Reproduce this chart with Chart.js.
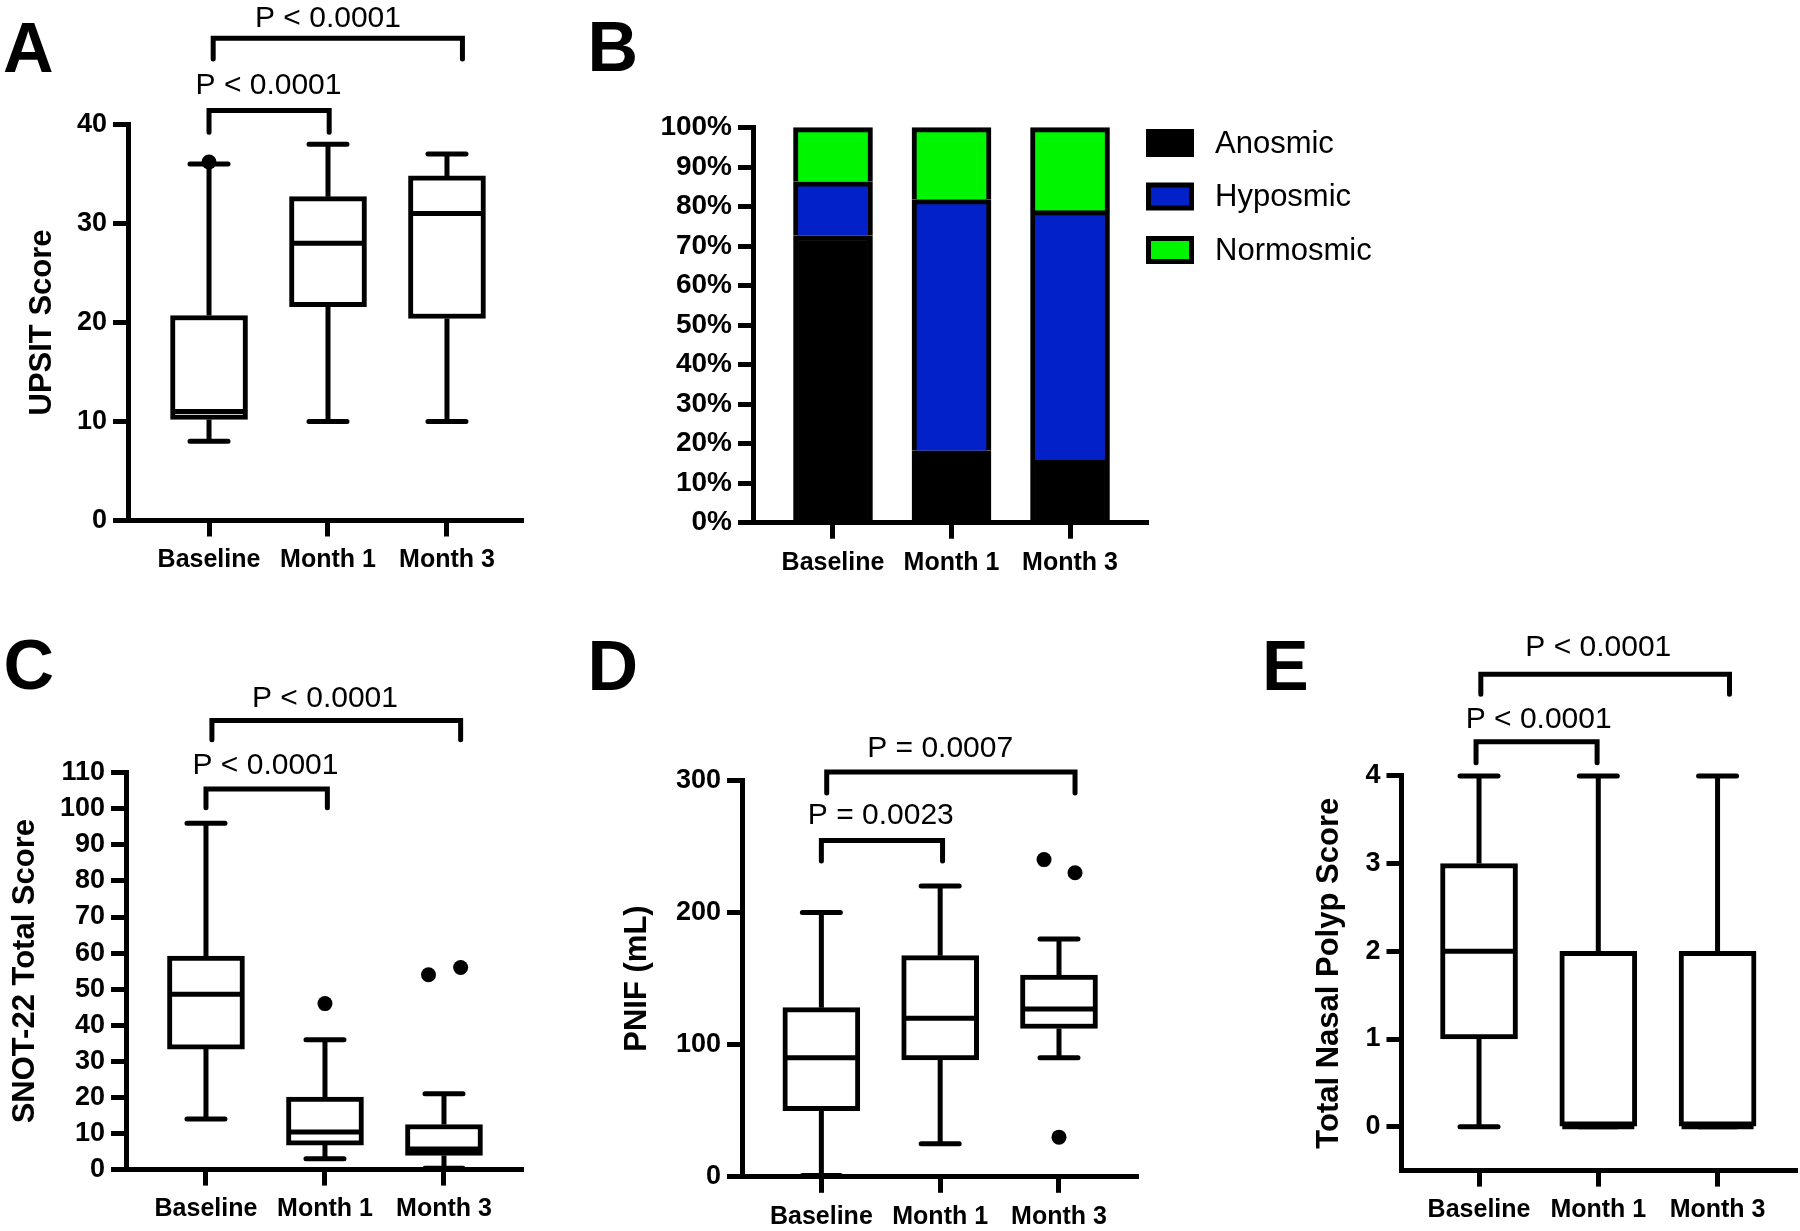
<!DOCTYPE html>
<html>
<head>
<meta charset="utf-8">
<title>Olfaction and nasal outcomes</title>
<script src="https://cdn.jsdelivr.net/npm/chart.js@4.4.1/dist/chart.umd.min.js"></script>
<style>
  html, body { margin: 0; padding: 0; background: #fff; }
  #fig { position: relative; width: 1800px; height: 1231px; overflow: hidden; background: #fff; }
  #fig canvas { position: absolute; left: 0; top: 0; }
</style>
</head>
<body>
<div id="fig">
  <canvas id="panelA" width="1800" height="1231"></canvas>
  <canvas id="panelB" width="1800" height="1231"></canvas>
  <canvas id="panelC" width="1800" height="1231"></canvas>
  <canvas id="panelD" width="1800" height="1231"></canvas>
  <canvas id="panelE" width="1800" height="1231"></canvas>
</div>
<script>
const categories = ['Baseline', 'Month 1', 'Month 3'];

// A: UPSIT score
const upsitMin = [8, 10, 10];
const upsitQ1 = [10.2, 21.6, 20.4];
const upsitMedian = [11, 28, 31];
const upsitQ3 = [20.7, 32.7, 34.8];
const upsitMax = [36, 38, 37];
const upsitOutliers = [[0, 36.2]];
const upsitTicks = [0, 10, 20, 30, 40];
const upsitP = ['P < 0.0001', 'P < 0.0001'];

// B: olfactory status (%)
const anosmicPct = [72.7, 18.2, 15.8];
const hyposmicPct = [13.6, 63.6, 63.2];
const normosmicPct = [13.7, 18.2, 21.0];
const pctTicks = [0, 10, 20, 30, 40, 50, 60, 70, 80, 90, 100];

// C: SNOT-22 total score
const snotMin = [14, 3, 0.4];
const snotQ1 = [33.4, 6.8, 3.9];
const snotMedian = [48.6, 10.4, 5.7];
const snotQ3 = [59.2, 20.1, 12.5];
const snotMax = [96, 36, 21];
const snotOutliers = [[1, 46], [1.87, 54], [2.14, 56]];
const snotTicks = [0, 10, 20, 30, 40, 50, 60, 70, 80, 90, 100, 110];
const snotP = ['P < 0.0001', 'P < 0.0001'];

// D: PNIF (mL)
const pnifMin = [1, 25, 90];
const pnifQ1 = [50, 88.4, 112.2];
const pnifMedian = [90, 120, 127];
const pnifQ3 = [128, 167.3, 152.7];
const pnifMax = [200, 220, 180];
const pnifOutliers = [[1.874, 240], [2.135, 230], [2, 30]];
const pnifTicks = [0, 100, 200, 300];
const pnifP = ['P = 0.0023', 'P = 0.0007'];

// E: total nasal polyp score
const npsMin = [0, 0, 0];
const npsQ1 = [1, 0, 0];
const npsMedian = [2, 0, 0];
const npsQ3 = [3, 2, 2];
const npsMax = [4, 4, 4];
const npsOutliers = [];
const npsTicks = [0, 1, 2, 3, 4];
const npsP = ['P < 0.0001', 'P < 0.0001'];

Chart.defaults.font.family = '"Liberation Sans", Arial, Helvetica, sans-serif';
Chart.defaults.color = '#000';
Chart.defaults.animation = false;

const FIG_W = 1800, FIG_H = 1231, X_AXIS_H = 50;
const FONT = '"Liberation Sans", Arial, Helvetica, sans-serif';
const BLUE = '#0321c9', GREEN = '#00f500';

function scalesFor(frame, yMin, yMax, yTicks, title, tickSize, fmt, stacked) {
  return {
    x: {
      type: 'linear', bounds: 'data', min: frame.xMin, max: frame.xMax, stacked: stacked,
      offset: false,
      grid: { display: true, offset: false, drawOnChartArea: false, drawTicks: true,
              tickLength: 16, tickWidth: 5, tickColor: '#000' },
      border: { display: true, color: '#000', width: 5 },
      ticks: { color: '#000', padding: 9, autoSkip: false, maxRotation: 0, minRotation: 0,
               font: { size: 25, weight: 'bold' }, callback: (v, i) => categories[i] },
      afterBuildTicks: s => { s.ticks = categories.map((c, i) => ({ value: i })); },
      afterFit: s => { s.height = X_AXIS_H; }
    },
    y: {
      type: 'linear', bounds: 'data', min: yMin, max: yMax, stacked: stacked,
      offset: false, beginAtZero: false,
      grid: { display: true, offset: false, drawOnChartArea: false, drawTicks: true,
              tickLength: 15, tickWidth: 5, tickColor: '#000' },
      border: { display: true, color: '#000', width: 5 },
      ticks: { color: '#000', padding: 6, font: { size: tickSize, weight: 'bold' },
               callback: v => fmt ? fmt(v) : v },
      title: { display: !!title, text: title || '', color: '#000', padding: 0,
               font: { size: 31, weight: 'bold' } },
      afterBuildTicks: s => { s.ticks = yTicks.map(v => ({ value: v })); },
      afterFit: s => { s.width = frame.left - frame.padLeft; }
    }
  };
}

function layoutFor(frame) {
  return { padding: { left: frame.padLeft, top: frame.top, right: FIG_W - frame.right,
                      bottom: FIG_H - frame.bottom - X_AXIS_H } };
}

// whiskers, caps and medians on top of the floating-bar boxes
function whiskerPlugin(st) {
  return {
    id: 'whiskers',
    afterDatasetsDraw(chart) {
      const { ctx } = chart, x = chart.scales.x, y = chart.scales.y;
      ctx.save();
      ctx.strokeStyle = '#000';
      ctx.lineWidth = 5;
      st.min.forEach((mn, i) => {
        const cx = x.getPixelForValue(i);
        const pMin = y.getPixelForValue(mn), pMax = y.getPixelForValue(st.max[i]);
        const pQ1 = y.getPixelForValue(st.q1[i]), pQ3 = y.getPixelForValue(st.q3[i]);
        const pMed = y.getPixelForValue(st.median[i]);
        ctx.lineCap = 'butt';
        ctx.beginPath();
        ctx.moveTo(cx, pQ3); ctx.lineTo(cx, pMax);
        ctx.moveTo(cx, pQ1); ctx.lineTo(cx, pMin);
        ctx.moveTo(cx - 36, pMed); ctx.lineTo(cx + 36, pMed);
        ctx.stroke();
        ctx.lineCap = 'round';
        ctx.beginPath();
        ctx.moveTo(cx - 19, pMax); ctx.lineTo(cx + 19, pMax);
        ctx.moveTo(cx - 19, pMin); ctx.lineTo(cx + 19, pMin);
        ctx.stroke();
      });
      ctx.restore();
    }
  };
}

// significance brackets + panel letter
function annotatePlugin(letter, brackets, labels) {
  return {
    id: 'annotate',
    afterDraw(chart) {
      const { ctx } = chart, x = chart.scales.x, y = chart.scales.y;
      ctx.save();
      ctx.strokeStyle = '#000';
      ctx.fillStyle = '#000';
      ctx.lineWidth = 5;
      brackets.forEach((b, k) => {
        const x1 = x.getPixelForValue(b.from), x2 = x.getPixelForValue(b.to);
        const yb = y.getPixelForValue(b.y), yl = y.getPixelForValue(b.leg);
        ctx.lineCap = 'round';
        ctx.lineJoin = 'miter';
        ctx.beginPath();
        ctx.moveTo(x1, yl); ctx.lineTo(x1, yb); ctx.lineTo(x2, yb); ctx.lineTo(x2, yl);
        ctx.stroke();
        ctx.font = '30px ' + FONT;
        ctx.textAlign = 'center';
        ctx.textBaseline = 'alphabetic';
        ctx.fillText(labels[k], x.getPixelForValue(b.tx), y.getPixelForValue(b.ty));
      });
      if (letter) {
        ctx.font = 'bold 70px ' + FONT;
        ctx.textAlign = 'left';
        ctx.textBaseline = 'alphabetic';
        ctx.fillText(letter.text, letter.x, letter.y);
      }
      ctx.restore();
    }
  };
}

function boxChart(id, frame, st, yMin, yMax, yTicks, title, letter, brackets, labels) {
  return new Chart(document.getElementById(id), {
    type: 'scatter',
    data: {
      datasets: [
        {
          type: 'bar',
          data: st.q1.map((q, i) => ({ x: i, y: [q, st.q3[i]] })),
          backgroundColor: '#fff', borderColor: '#000', borderWidth: 5,
          borderSkipped: false, barThickness: 77, clip: false
        },
        {
          type: 'scatter',
          data: st.outliers.map(p => ({ x: p[0], y: p[1] })),
          pointRadius: 7.5, pointBackgroundColor: '#000', pointBorderWidth: 0, clip: false
        }
      ]
    },
    options: {
      responsive: false, devicePixelRatio: 1, animation: false,
      layout: layoutFor(frame),
      plugins: { legend: { display: false }, tooltip: { enabled: false } },
      scales: scalesFor(frame, yMin, yMax, yTicks, title, 27, null, false)
    },
    plugins: [whiskerPlugin(st), annotatePlugin(letter, brackets, labels)]
  });
}

// Panel A
boxChart('panelA',
  { left: 128, right: 523, top: 124.4, bottom: 520.5, xMin: -0.681, xMax: 2.639, padLeft: 23.4 },
  { min: upsitMin, q1: upsitQ1, median: upsitMedian, q3: upsitQ3, max: upsitMax, outliers: upsitOutliers },
  0, 40, upsitTicks, 'UPSIT Score', { text: 'A', x: 3, y: 72 },
  [ { from: 0, to: 1.01, y: 41.4, leg: 39.2, tx: 0.5, ty: 43.1 },
    { from: 0.035, to: 2.13, y: 48.7, leg: 46.6, tx: 1, ty: 49.8 } ], upsitP);

// Panel C
boxChart('panelC',
  { left: 126, right: 523, top: 772.7, bottom: 1169.6, xMin: -0.672, xMax: 2.664, padLeft: 6.4 },
  { min: snotMin, q1: snotQ1, median: snotMedian, q3: snotQ3, max: snotMax, outliers: snotOutliers },
  0, 110, snotTicks, 'SNOT-22 Total Score', { text: 'C', x: 3.5, y: 689 },
  [ { from: 0, to: 1.02, y: 105.5, leg: 100.3, tx: 0.5, ty: 109.6 },
    { from: 0.05, to: 2.14, y: 124.5, leg: 119.1, tx: 1, ty: 128.2 } ], snotP);

// Panel D
boxChart('panelD',
  { left: 742, right: 1138.6, top: 780.3, bottom: 1176.8, xMin: -0.668, xMax: 2.67, padLeft: 619.3 },
  { min: pnifMin, q1: pnifQ1, median: pnifMedian, q3: pnifQ3, max: pnifMax, outliers: pnifOutliers },
  0, 300, pnifTicks, 'PNIF (mL)', { text: 'D', x: 587.5, y: 690 },
  [ { from: 0, to: 1.02, y: 254.4, leg: 239, tx: 0.5, ty: 267.2 },
    { from: 0.045, to: 2.135, y: 306.3, leg: 290.4, tx: 1, ty: 317.9 } ], pnifP);

// Panel E
boxChart('panelE',
  { left: 1401.5, right: 1797, top: 775.9, bottom: 1170.6, xMin: -0.65, xMax: 2.666, padLeft: 1310.9 },
  { min: npsMin, q1: npsQ1, median: npsMedian, q3: npsQ3, max: npsMax, outliers: npsOutliers },
  -0.5, 4, npsTicks, 'Total Nasal Polyp Score', { text: 'E', x: 1262, y: 690 },
  [ { from: -0.025, to: 0.99, y: 4.39, leg: 4.15, tx: 0.5, ty: 4.55 },
    { from: 0.015, to: 2.1, y: 5.16, leg: 4.93, tx: 1, ty: 5.37 } ], npsP);

// Panel B: stacked percentage bars with a hand-placed legend
const frameB = { left: 753, right: 1148, top: 127.7, bottom: 522.7, xMin: -0.675, xMax: 2.658, padLeft: 600 };

const legendB = {
  id: 'legendB',
  afterDraw(chart) {
    const { ctx } = chart;
    ctx.save();
    chart.data.datasets.forEach((ds, k) => {
      const cy = 143 + k * 53.5;
      ctx.fillStyle = '#000';
      ctx.fillRect(1146, cy - 14, 48, 28);
      ctx.fillStyle = ds.backgroundColor;
      ctx.fillRect(1151, cy - 9, 38, 18);
      ctx.fillStyle = '#000';
      ctx.font = '31px ' + FONT;
      ctx.textAlign = 'left';
      ctx.textBaseline = 'middle';
      ctx.fillText(ds.label, 1215, cy + 1);
    });
    ctx.restore();
  }
};

const segStyle = { type: 'bar', borderColor: '#000', borderWidth: 5, borderSkipped: 'start', barThickness: 79, clip: false };

new Chart(document.getElementById('panelB'), {
  type: 'scatter',
  data: {
    datasets: [
      Object.assign({ label: 'Anosmic', backgroundColor: '#000',
        data: anosmicPct.map((v, i) => ({ x: i, y: v })) }, segStyle),
      Object.assign({ label: 'Hyposmic', backgroundColor: BLUE,
        data: hyposmicPct.map((v, i) => ({ x: i, y: v })) }, segStyle),
      Object.assign({ label: 'Normosmic', backgroundColor: GREEN,
        data: normosmicPct.map((v, i) => ({ x: i, y: v })) }, segStyle)
    ]
  },
  options: {
    responsive: false, devicePixelRatio: 1, animation: false,
    layout: layoutFor(frameB),
    plugins: { legend: { display: false }, tooltip: { enabled: false } },
    scales: scalesFor(frameB, 0, 100, pctTicks, null, 28, v => v + '%', true)
  },
  plugins: [legendB, annotatePlugin({ text: 'B', x: 587.5, y: 71 }, [], [])]
});
</script>
</body>
</html>
